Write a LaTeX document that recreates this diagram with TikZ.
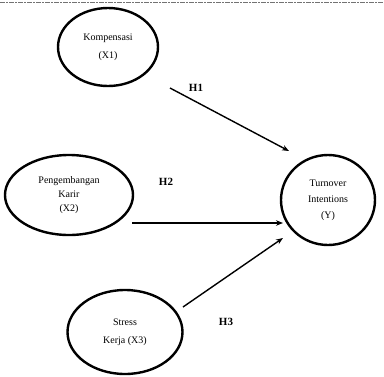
\documentclass[tikz,border=0pt]{standalone}
\usepackage{fontspec}
\setmainfont{Liberation Serif}
\usetikzlibrary{shapes.geometric,arrows.meta}

\tikzset{
  var/.style={draw, ellipse, line width=2.4pt, align=center, inner sep=0pt,
    font=\fontsize{10}{18}\selectfont},
  hyp/.style={-{Stealth[length=7pt,width=5.5pt]}, line width=1.4pt},
  hlabel/.style={font=\fontsize{11}{13}\selectfont\bfseries}
}

\begin{document}
\begin{tikzpicture}[x=1pt,y=-1pt]
    \useasboundingbox (0,0) rectangle (384,376);
    \draw[black!55, line width=0.7pt, dash pattern=on 5pt off 1pt on 2pt off 1pt]
    (0,2) -- (384,2);

    \node[var, minimum width=100pt, minimum height=78pt] (X1) at (108,47) {Kompensasi\\(X1)};
    \node[var, minimum width=128pt, minimum height=80pt,
      font=\fontsize{10}{14}\selectfont] (X2) at (69,195) {Pengembangan\\Karir\\(X2)};
    \node[var, minimum width=94pt, minimum height=90pt,
      font=\fontsize{10}{16}\selectfont] (Y) at (328,200) {Turnover\\Intentions\\(Y)};
    \node[var, minimum width=115pt, minimum height=84pt] (X3) at (125,332) {Stress\\Kerja (X3)};

    \coordinate (h1a) at (170,88);
    \coordinate (h1b) at (289,151);
    \coordinate (h2a) at (132,223);
    \coordinate (h2b) at (283,223);
    \coordinate (h3a) at (183,307);
    \coordinate (h3b) at (283,238);

    \draw[hyp] (h1a) -- (h1b);
    \draw[hyp] (h2a) -- (h2b);
    \draw[hyp] (h3a) -- (h3b);

    \node[hlabel] (H1) at (196,88) {H1};
    \node[hlabel] (H2) at (166,182) {H2};
    \node[hlabel] (H3) at (226,322) {H3};
  \end{tikzpicture}
\end{document}
